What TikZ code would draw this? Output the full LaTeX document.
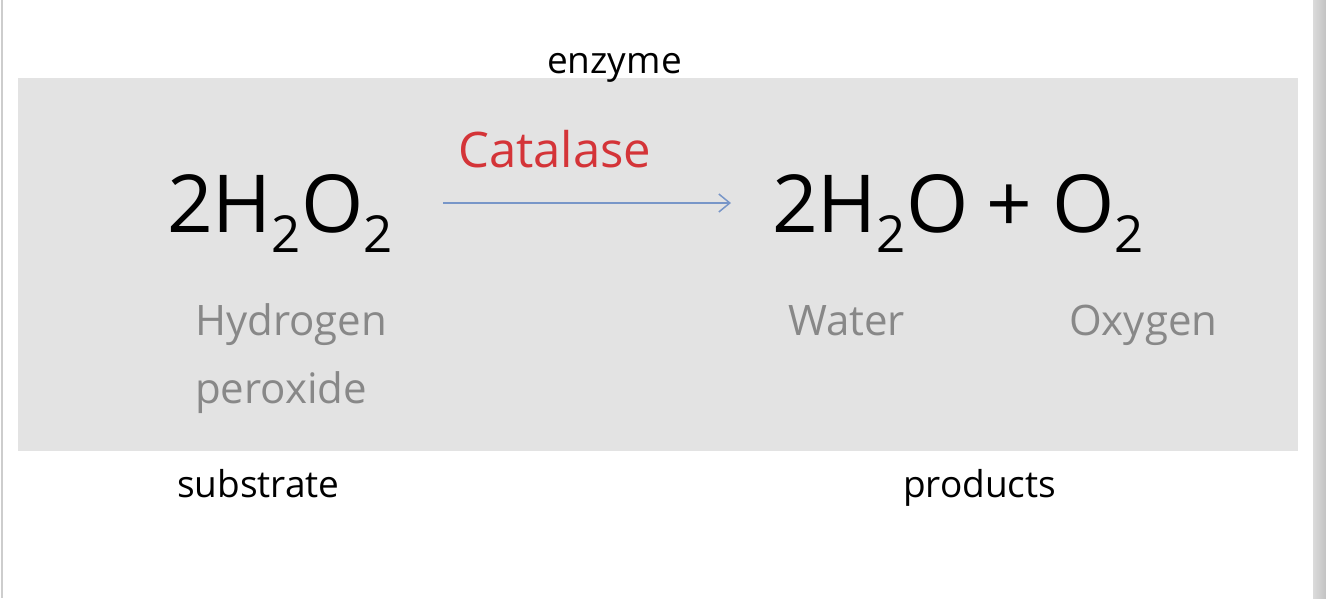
\documentclass[tikz,border=0pt]{standalone}
\usepackage{fontspec}
\setmainfont{Open Sans}
\usetikzlibrary{arrows.meta}
\definecolor{boxgray}{RGB}{227,227,227}
\definecolor{txtgray}{RGB}{136,136,136}
\definecolor{catred}{RGB}{212,52,56}
\definecolor{arrblue}{RGB}{120,150,200}
\definecolor{edgegray}{RGB}{205,205,205}
\newcommand\chsub[1]{\raisebox{-20pt}{\fontsize{51}{56}\selectfont #1}}
\tikzset{
  formulatxt/.style={anchor=base west, inner sep=0pt, font=\fontsize{80}{90}\selectfont, text=black},
  nametxt/.style={anchor=base west, inner sep=0pt, font=\fontsize{42}{46}\selectfont, text=txtgray},
  lbltxt/.style={anchor=base west, inner sep=0pt, font=\fontsize{37}{40}\selectfont, text=black},
}
\begin{document}
\begin{tikzpicture}[x=1pt,y=-1pt]
\useasboundingbox (0,0) rectangle (1326,598);
\fill[white] (0,0) rectangle (1326,598);
\fill[edgegray] (0.5,0) rectangle (2.5,598);
\shade[left color=black!14, right color=black!24] (1313,0) rectangle (1326,598);
\fill[boxgray] (18,78) rectangle (1298,451);
\node[lbltxt] (enz) at (547,73) {enzyme};
\node[anchor=base west, inner sep=0pt, font=\fontsize{49}{52}\selectfont, text=catred] (cat) at (458,167) {Catalase};
\node[formulatxt] (sub) at (167,232) {2H\chsub{2}O\chsub{2}};
\node[formulatxt] (prod) at (772,232) {2H\chsub{2}O\hspace{18pt}+\hspace{20pt}O\chsub{2}};
\coordinate (a1) at (443,203);
\coordinate (a2) at (731,203);
\draw[arrblue, line width=1.5pt, -{Straight Barb[length=11pt,width=18pt,line width=1.5pt]}] (a1) -- (a2);
\node[nametxt] (hyd) at (195,335) {Hydrogen};
\node[nametxt] (per) at (195,403) {peroxide};
\node[nametxt] (wat) at (788,335) {Water};
\node[nametxt] (oxy) at (1069,335) {Oxygen};
\node[lbltxt] (substr) at (177,497) {substrate};
\node[lbltxt] (prods) at (903,497) {products};
\end{tikzpicture}
\end{document}
